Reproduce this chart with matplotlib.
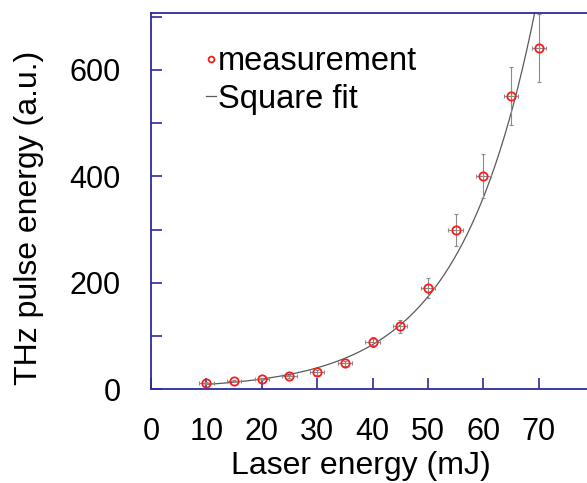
import numpy as np
import matplotlib
matplotlib.use('Agg')
import matplotlib.pyplot as plt

laser_energy = [10, 15, 20, 25, 30, 35, 40, 45, 50, 55, 60, 65, 70]  # mJ
thz_energy = [12, 16, 20, 25, 32, 49, 89, 119, 190, 300, 401, 551, 642]  # a.u.
thz_err = [1.5, 2, 2.5, 3, 4, 5, 9, 12, 19, 30, 41, 55, 64]
laser_err = [1.3] * len(laser_energy)

# Fit curve parameters (y = a * exp(b * x)), estimated from the drawn curve
fit_a = 4.6
fit_b = 0.0727
fit_range = (10, 72)

x_ticks = [0, 10, 20, 30, 40, 50, 60, 70]
y_ticks = [0, 200, 400, 600]
y_minor = [100, 300, 500, 700]

plt.rcParams['font.family'] = ['Liberation Sans', 'DejaVu Sans']

spine_color = '#2b2ba0'

fig = plt.figure(figsize=(5.87, 4.83), dpi=100)
ax = fig.add_axes([0.2572, 0.1936, 0.755, 0.7795])

x_fit = np.linspace(fit_range[0], fit_range[1], 300)
y_fit = fit_a * np.exp(fit_b * x_fit)
ax.plot(x_fit, y_fit, color='#5a5a5a', lw=0.9, label='Square fit', zorder=2)

ax.errorbar(laser_energy, thz_energy, yerr=thz_err, xerr=laser_err, fmt='none',
            ecolor='#8a8a8a', elinewidth=0.8, capsize=1.5, capthick=0.8, zorder=3)
ax.plot(laser_energy, thz_energy, 'o', mfc='none', mec='#ff1a1a', ms=6, mew=1.3,
        label='measurement', zorder=4)

ax.set_xlim(0, 80)
ax.set_ylim(0, 707)

ax.set_xticks(x_ticks)
ax.set_yticks(y_ticks)
ax.set_yticks(y_minor, minor=True)
ax.tick_params(axis='both', which='both', direction='in', color=spine_color,
               labelsize=22, width=1.2)
ax.tick_params(axis='x', which='major', length=8, pad=20)
ax.tick_params(axis='y', which='major', length=8, pad=22)
ax.tick_params(axis='y', which='minor', length=8)

for side in ['left', 'bottom', 'top', 'right']:
    ax.spines[side].set_color(spine_color)
    ax.spines[side].set_linewidth(1.3)

ax.set_xlabel('Laser energy (mJ)', fontsize=23)
ax.set_ylabel('THz pulse energy (a.u.)', fontsize=23)
ax.xaxis.set_label_coords(0.4745, -0.163)
ax.yaxis.set_label_coords(-0.242, 0.457)

handles, labels = ax.get_legend_handles_labels()
leg = ax.legend(handles[::-1], labels[::-1], loc='upper left',
                bbox_to_anchor=(0.088, 0.955), frameon=False, fontsize=23.5,
                handlelength=0.3, handletextpad=0.05, labelspacing=0.2,
                borderpad=0, markerscale=0.7)

plt.savefig('out.png', dpi=100)
